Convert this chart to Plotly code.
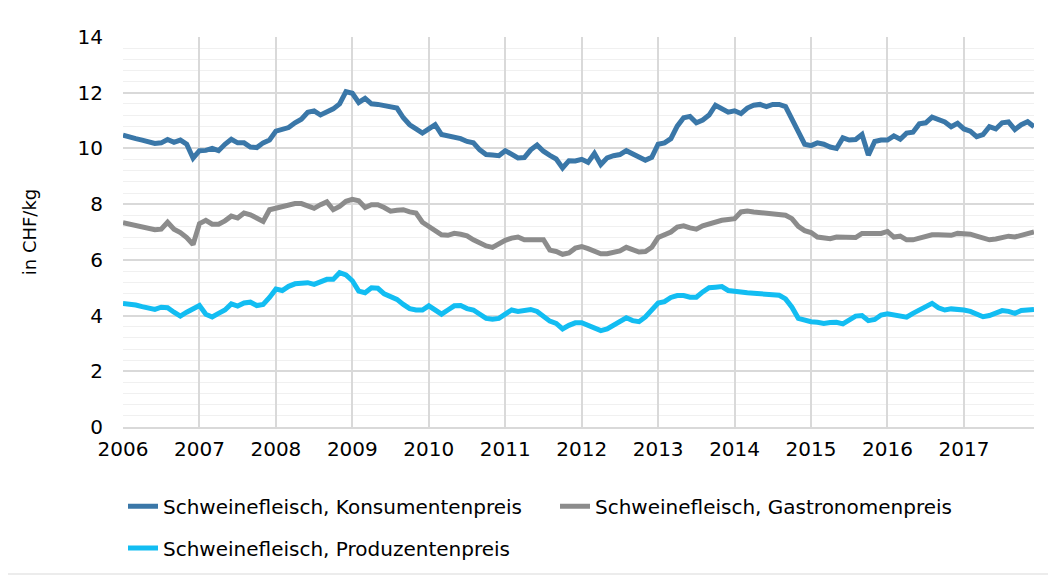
import plotly.graph_objects as go

years = [str(y) for y in range(2006, 2018)]
months = list(range(144))

konsument = [
    10.48, 10.40, 10.35, 10.30, 10.24, 10.18, 10.20, 10.32, 10.22, 10.30, 10.15, 9.65,
    9.92, 9.93, 10.00, 9.92, 10.15, 10.33, 10.20, 10.20, 10.05, 10.03, 10.20, 10.30,
    10.62, 10.68, 10.75, 10.92, 11.05, 11.30, 11.35, 11.20, 11.32, 11.42, 11.60, 12.04,
    11.98, 11.65, 11.80, 11.60, 11.58, 11.55, 11.50, 11.45, 11.10, 10.85, 10.70, 10.55,
    10.70, 10.85, 10.50, 10.45, 10.38, 10.35, 10.25, 10.20, 9.95, 9.78, 9.76, 9.74,
    9.92, 9.80, 9.66, 9.67, 9.95, 10.12, 9.90, 9.75, 9.62, 9.30, 9.56, 9.55,
    9.61, 9.50, 9.82, 9.42, 9.66, 9.74, 9.78, 9.92, 9.82, 9.68, 9.58, 9.68,
    10.15, 10.20, 10.35, 10.80, 11.10, 11.15, 10.92, 11.02, 11.20, 11.55, 11.40, 11.30,
    11.35, 11.25, 11.45, 11.55, 11.58, 11.50, 11.58, 11.58, 11.50, 11.00, 10.60, 10.15,
    10.10, 10.20, 10.15, 10.05, 10.00, 10.38, 10.30, 10.32, 10.50, 9.76, 10.25, 10.30,
    10.30, 10.45, 10.33, 10.55, 10.58, 10.88, 10.92, 11.12, 11.05, 10.95, 10.78, 10.90,
    10.70, 10.62, 10.42, 10.50, 10.78, 10.70, 10.92, 10.95, 10.68, 10.85, 10.96, 10.78,
]

gastronom = [
    7.33, 7.28, 7.25, 7.18, 7.13, 7.08, 7.10, 7.35, 7.10, 6.98, 6.80, 6.55,
    7.30, 7.42, 7.28, 7.28, 7.40, 7.57, 7.50, 7.68, 7.62, 7.50, 7.38, 7.80,
    7.85, 7.90, 7.98, 8.02, 8.02, 7.92, 7.85, 7.98, 8.08, 7.80, 7.92, 8.10,
    8.17, 8.12, 7.88, 7.98, 7.98, 7.88, 7.75, 7.78, 7.80, 7.72, 7.68, 7.35,
    7.20, 7.08, 6.90, 6.88, 6.95, 6.92, 6.86, 6.72, 6.60, 6.50, 6.45, 6.60,
    6.70, 6.78, 6.82, 6.72, 6.72, 6.72, 6.72, 6.35, 6.30, 6.20, 6.25, 6.42,
    6.48, 6.40, 6.30, 6.22, 6.22, 6.25, 6.32, 6.45, 6.38, 6.28, 6.30, 6.45,
    6.80, 6.88, 7.00, 7.18, 7.22, 7.15, 7.10, 7.22, 7.30, 7.35, 7.42, 7.45,
    7.48, 7.72, 7.75, 7.72, 7.70, 7.68, 7.65, 7.62, 7.60, 7.48, 7.20, 7.05,
    6.98, 6.82, 6.80, 6.76, 6.82, 6.80, 6.78, 6.80, 6.95, 6.95, 6.95, 6.95,
    7.02, 6.82, 6.85, 6.72, 6.72, 6.78, 6.85, 6.90, 6.90, 6.90, 6.88, 6.95,
    6.95, 6.92, 6.85, 6.78, 6.72, 6.75, 6.82, 6.85, 6.82, 6.88, 6.92, 7.00,
]

produzent = [
    4.43, 4.41, 4.38, 4.32, 4.26, 4.22, 4.30, 4.28, 4.12, 3.98, 4.12, 4.22,
    4.36, 4.05, 3.95, 4.08, 4.20, 4.42, 4.34, 4.45, 4.48, 4.36, 4.40, 4.65,
    4.95, 4.90, 5.05, 5.14, 5.16, 5.18, 5.12, 5.20, 5.30, 5.30, 5.54, 5.46,
    5.25, 4.88, 4.82, 5.00, 4.98, 4.78, 4.68, 4.58, 4.40, 4.25, 4.20, 4.20,
    4.35, 4.20, 4.05, 4.20, 4.35, 4.36, 4.25, 4.20, 4.05, 3.90, 3.87, 3.90,
    4.05, 4.20, 4.15, 4.20, 4.22, 4.15, 3.95, 3.80, 3.72, 3.52, 3.65, 3.74,
    3.74, 3.65, 3.55, 3.46, 3.52, 3.65, 3.75, 3.92, 3.82, 3.78, 3.95, 4.20,
    4.45, 4.50, 4.65, 4.72, 4.72, 4.66, 4.66, 4.85, 5.00, 5.02, 5.04, 4.90,
    4.86, 4.84, 4.82, 4.80, 4.78, 4.76, 4.72, 4.73, 4.60, 4.30, 3.90, 3.82,
    3.78, 3.76, 3.72, 3.75, 3.76, 3.70, 3.85, 3.98, 4.00, 3.82, 3.86, 4.02,
    4.06, 4.02, 3.98, 3.94, 4.08, 4.20, 4.32, 4.44, 4.28, 4.20, 4.24, 4.24,
    4.20, 4.15, 4.05, 3.96, 4.00, 4.10, 4.18, 4.15, 4.08, 4.18, 4.20, 4.22,
]

series_names = [
    "Schweinefleisch, Konsumentenpreis",
    "Schweinefleisch, Gastronomenpreis",
    "Schweinefleisch, Produzentenpreis",
]
colors = ["#3A77A8", "#8C8C8C", "#12BDF2"]
legend_ids = ["legend", "legend", "legend2"]

fig = go.Figure()
for name, vals, col, lg in zip(series_names, [konsument, gastronom, produzent], colors, legend_ids):
    fig.add_trace(go.Scatter(
        x=months, y=vals, mode="lines", name=name,
        line=dict(color=col, width=5), legend=lg,
    ))

font_family = "DejaVu Sans, Verdana, sans-serif"
FS = 20

fig.update_layout(
    width=1056, height=576,
    margin=dict(l=115, r=30, t=29, b=157),
    paper_bgcolor="white", plot_bgcolor="white",
    font=dict(family=font_family, size=FS, color="#000000"),
    showlegend=True,
    legend=dict(
        orientation="h", x=0, xanchor="left", y=-0.153, yanchor="top",
        entrywidth=387, entrywidthmode="pixels",
        font=dict(size=FS, color="#000000"), bgcolor="rgba(0,0,0,0)",
    ),
    legend2=dict(
        orientation="h", x=0, xanchor="left", y=-0.26, yanchor="top",
        font=dict(size=FS, color="#000000"), bgcolor="rgba(0,0,0,0)",
    ),
    shapes=[dict(
        type="rect", xref="paper", yref="paper",
        x0=-0.3, x1=(1046 - 115) / 911, y0=-(566 - 419) / 390, y1=1.3,
        line=dict(color="#D9D9D9", width=1), fillcolor="rgba(0,0,0,0)", layer="below",
    )],
)

fig.update_xaxes(
    range=[0, 143],
    tickvals=list(range(0, 144, 12)) + [143],
    ticktext=years + [""],
    showgrid=True, gridcolor="#D9D9D9", gridwidth=1.5,
    showline=True, linecolor="#D9D9D9", linewidth=1.5,
    ticks="", zeroline=False,
    ticklabelstandoff=3,
    tickfont=dict(size=FS),
)
fig.update_yaxes(
    range=[0, 14], dtick=2, tick0=0,
    showgrid=True, gridcolor="#D9D9D9", gridwidth=1.5,
    minor=dict(dtick=0.4, showgrid=True, gridcolor="#F0F0F0", gridwidth=1),
    zeroline=False, showline=False, ticks="",
    ticklabelstandoff=19,
    tickfont=dict(size=FS),
    title=dict(text="in CHF/kg", font=dict(size=18), standoff=36),
)

fig.write_html("out.html")
